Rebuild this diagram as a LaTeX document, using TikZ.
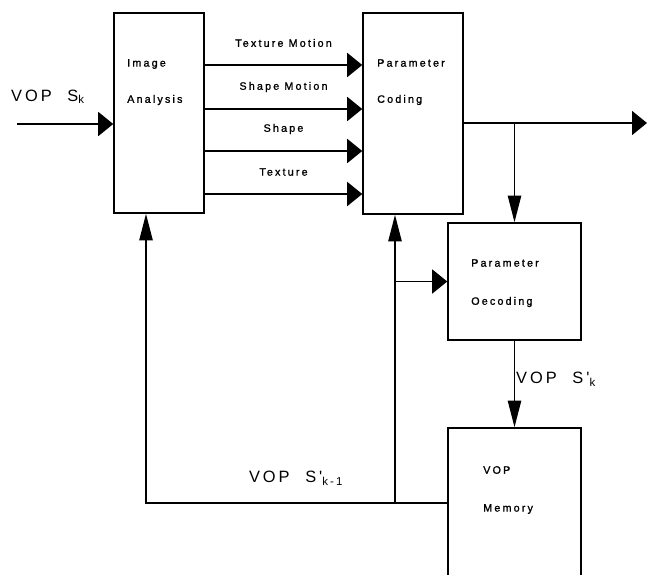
\documentclass[tikz,border=0pt]{standalone}
\usepackage{fontspec}
\setmainfont{Liberation Sans}
\newfontfamily\vopfont{Liberation Sans}[LetterSpace=18]
\newfontfamily\blockfont{Liberation Sans}[LetterSpace=20,FakeBold=1.2]
\usetikzlibrary{arrows.meta,calc}
\tikzset{
  va block/.style={
    rectangle,
    draw=black,
    line width=1.3pt,
    inner sep=0pt,
  },
  va text/.style={
    anchor=west,
    inner sep=0pt,
    font=\blockfont\fontsize{9.2}{11}\selectfont,
  },
  va label/.style={
    inner sep=0pt,
    font=\blockfont\fontsize{9.2}{11}\selectfont,
  },
  va vop/.style={
    inner sep=0pt,
    font=\vopfont\fontsize{14}{16}\selectfont,
  },
  va line/.style={line width=1.3pt},
  va harrow/.style={-{Triangle[length=0.45cm,width=0.72cm]}, line width=1.3pt},
  va varrow/.style={-{Triangle[length=0.8cm,width=0.4cm]}, line width=1.3pt},
}

\begin{document}
\begin{tikzpicture}[x=0.03cm,y=-0.03cm]
  \clip (0,0) rectangle (647,574);

  \node[va block,minimum width=2.7cm,minimum height=6cm] (ia) at (159,113) {};
  \node[va block,minimum width=3cm,minimum height=6.03cm] (pc) at (413,113.5) {};
  \node[va block,minimum width=3.99cm,minimum height=3.51cm] (pd) at (514.5,281.5) {};
  \node[va block,minimum width=3.99cm,minimum height=5.52cm] (vm) at (514.5,520) {};

  \node[va text] (iatop) at (127,64) {Image};
  \node[va text] (iabot) at (127,100) {Analysis};
  \node[va text] (pctop) at (377,63) {Parameter};
  \node[va text] (pcbot) at (377,100) {Coding};
  \node[va text] (pdtop) at (471,263) {Parameter};
  \node[va text] (pdbot) at (471,302) {Oecoding};
  \node[va text] (vmtop) at (483,470) {VOP};
  \node[va text] (vmbot) at (483,509) {Memory};

  \coordinate (in) at (17,124);
  \coordinate (out) at (647,123);
  \coordinate (fb) at (448,503);
  \coordinate (tap) at (395,503);

  \node[va vop,anchor=west] (sk) at (11,97) {VOP\hspace{0.5em} S\textsubscript{k}};
  \node[va vop,anchor=west] (skd) at (516,379) {VOP\hspace{0.5em} S'\textsubscript{k}};
  \node[va vop] (skm) at (296,478) {VOP\hspace{0.5em} S'\textsubscript{k-1}};

  \draw[va harrow] (in) -- (in -| ia.west);

  \foreach \y/\txt in {65/Texture Motion,109/Shape Motion,151/Shape,194/Texture} {
    \draw[va harrow] (ia.east |- 0,\y) -- (pc.west |- 0,\y)
      node[va label,midway,yshift=0.66cm] {\txt};
  }

  \draw[va harrow] (pc.east |- out) -- (out);
  \draw[va varrow] (pd.north |- out) -- (pd.north);
  \draw[va varrow] (pd.south) -- (vm.north);

  \draw[va varrow] (fb) -| ([xshift=-0.39cm]ia.south);
  \draw[va varrow] (tap) -- ([xshift=-0.54cm]pc.south);
  \draw[va harrow] (tap |- pd.west) -- (pd.west);
\end{tikzpicture}
\end{document}
